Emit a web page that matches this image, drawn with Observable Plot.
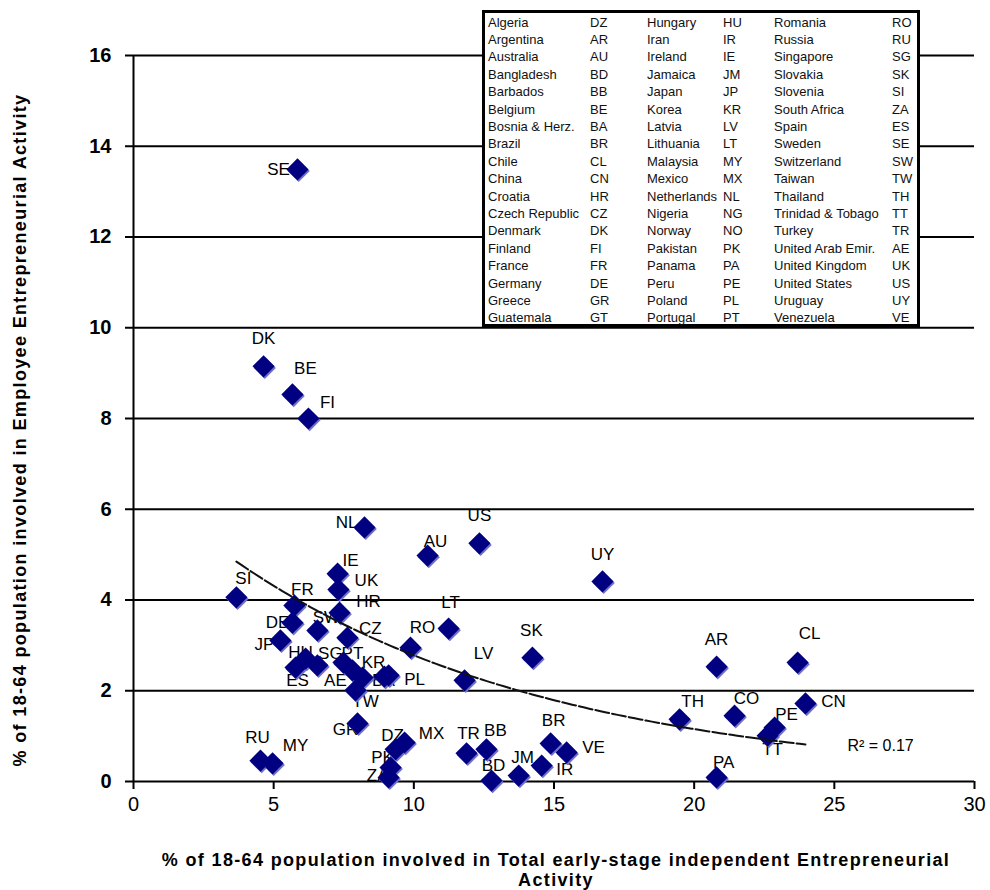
<!DOCTYPE html>
<html><head><meta charset="utf-8">
<script src="https://cdn.jsdelivr.net/npm/d3@7"></script>
<script src="https://cdn.jsdelivr.net/npm/@observablehq/plot@0.6"></script>
<style>
body{margin:0;background:#fff;font-family:"Liberation Sans",Arial,sans-serif;}
#wrap{position:relative;width:990px;height:890px;overflow:hidden;}
#legend{position:absolute;left:482px;top:10px;width:432px;height:311px;border:3px solid #000;background:#fff;}
.lg{position:absolute;font-size:13px;color:#111;white-space:nowrap;line-height:17px;}
#xtitle{position:absolute;left:556px;top:850px;transform:translateX(-50%);width:805px;text-align:center;font-weight:bold;font-size:18px;line-height:20px;letter-spacing:1.35px;}
#ytitle{position:absolute;left:20px;top:430px;transform:translate(-50%,-50%) rotate(-90deg);white-space:nowrap;font-weight:bold;font-size:18px;letter-spacing:1.35px;}
</style></head><body><div id="wrap"></div>
<script>
// ---- data ----
const codes = ["SE","DK","BE","FI","NL","AU","US","UY","IE","UK","SI","FR","HR","LT","DE","SW","CZ","RO","JP","SK","LV","AR","CL","TH","CO","CN","PE","TT","PA","HU","ES","SG","PT","AE","KR","TW","BA","PL","GR","RU","MY","DZ","MX","PK","ZA","TR","BB","BD","JM","BR","VE","IR"];
const teaValues = [5.85,4.64,5.67,6.24,8.24,10.49,12.34,16.73,7.28,7.31,3.67,5.74,7.35,11.24,5.67,6.56,7.63,9.88,5.24,14.23,11.81,20.80,23.69,19.48,21.44,23.97,22.87,22.62,20.80,6.14,5.78,6.56,7.49,7.81,8.17,7.92,8.95,9.10,7.99,4.53,4.96,9.35,9.67,9.17,9.10,11.88,12.59,12.77,13.74,14.88,15.45,14.56];
const eeaValues = [13.49,9.15,8.53,8.00,5.60,4.98,5.25,4.41,4.58,4.23,4.06,3.88,3.72,3.37,3.50,3.33,3.17,2.95,3.11,2.73,2.23,2.53,2.62,1.37,1.45,1.72,1.19,1.01,0.09,2.71,2.51,2.56,2.62,2.45,2.29,2.01,2.31,2.34,1.28,0.46,0.40,0.71,0.86,0.31,0.09,0.62,0.71,0.02,0.13,0.84,0.64,0.35];
const xTicks = [0,5,10,15,20,25,30];
const yTicks = [0,2,4,6,8,10,12,14,16];
const trendA = 6.69, trendB = -0.0878; // exponential trendline y = a·e^(b·x)
const rSquaredText = "R² = 0.17";
const legendNames = ["Algeria","Argentina","Australia","Bangladesh","Barbados","Belgium","Bosnia & Herz.","Brazil","Chile","China","Croatia","Czech Republic","Denmark","Finland","France","Germany","Greece","Guatemala",
"Hungary","Iran","Ireland","Jamaica","Japan","Korea","Latvia","Lithuania","Malaysia","Mexico","Netherlands","Nigeria","Norway","Pakistan","Panama","Peru","Poland","Portugal",
"Romania","Russia","Singapore","Slovakia","Slovenia","South Africa","Spain","Sweden","Switzerland","Taiwan","Thailand","Trinidad & Tobago","Turkey","United Arab Emir.","United Kingdom","United States","Uruguay","Venezuela"];
const legendCodes = ["DZ","AR","AU","BD","BB","BE","BA","BR","CL","CN","HR","CZ","DK","FI","FR","DE","GR","GT",
"HU","IR","IE","JM","JP","KR","LV","LT","MY","MX","NL","NG","NO","PK","PA","PE","PL","PT",
"RO","RU","SG","SK","SI","ZA","ES","SE","SW","TW","TH","TT","TR","AE","UK","US","UY","VE"];
const xTitle = "% of 18-64 population involved in Total early-stage independent Entrepreneurial Activity";
const yTitle = "% of 18-64 population involved in Employee Entrepreneurial Activity";

// ---- label placement (pixel offsets from the marker) ----
const labelOffset = {SE:[-19,0],DK:[0,-28],BE:[13,-26],FI:[19,-16],NL:[-18,-5],AU:[8,-14],US:[0,-28],UY:[0,-27],IE:[13,-13],UK:[28,-9],SI:[7,-19],FR:[8,-16],HR:[29,-11],LT:[2,-26],DE:[-15,0],SW:[9,-13],CZ:[23,-9],RO:[12,-20],JP:[-16,4],SK:[-1,-27],LV:[19,-27],AR:[0,-27],CL:[12,-29],TH:[13,-18],CO:[12,-17],CN:[28,-2],PE:[12,-13],TT:[5,14],PA:[7,-15],HU:[-5,-6],ES:[2,13],SG:[13,-12],PT:[9,-9],AE:[-17,10],KR:[11,-15],TW:[10,11],BA:[-1,4],PL:[26,4],GR:[-12,6],RU:[-3,-23],MY:[23,-18],DZ:[-3,-14],MX:[27,-9],PK:[-8,-10],ZA:[-11,-2],TR:[2,-20],BB:[9,-19],BD:[2,-15],JM:[4,-18],BR:[3,-23],VE:[27,-5],IR:[23,4]};

const data = codes.map((c,i)=>({code:c, tea:teaValues[i], eea:eeaValues[i]}));
const [xMin, xMax] = d3.extent(teaValues);
const trend = d3.range(0, 101).map(k => { const x = xMin + (xMax - xMin) * k / 100; return {x, y: trendA * Math.exp(trendB * x)}; });
const trendEnd = trend[trend.length-1];

const labelMarks = data.map(d => Plot.text([d], {x:"tea", y:"eea", text:"code", dx:labelOffset[d.code][0], dy:labelOffset[d.code][1], fontSize:17, fill:"#000"}));

const plot = Plot.plot({
  width: 990, height: 890,
  marginLeft: 133, marginRight: 16, marginTop: 55, marginBottom: 109,
  x: {domain:[0,30]},
  y: {domain:[0,16]},
  style: {fontFamily:"'Liberation Sans', Arial, sans-serif", background:"white", color:"#000"},
  marks: [
    Plot.ruleY(yTicks.filter(v=>v>0), {stroke:"#000", strokeWidth:2}),
    Plot.ruleY([0], {stroke:"#000", strokeWidth:2}),
    Plot.ruleX([0], {stroke:"#000", strokeWidth:2}),
    Plot.axisX({ticks:xTicks, tickSize:8, tickPadding:7, fontSize:20, strokeWidth:2, label:null}),
    Plot.axisY({ticks:yTicks, tickSize:8, tickPadding:14, fontSize:20, fontWeight:"bold", strokeWidth:2, label:null}),
    ...labelMarks,
    Plot.dot(data, {x:"tea", y:"eea", symbol:"diamond2", r:10, fill:"#7070c8", dx:1.2, dy:1.6}),
    Plot.dot(data, {x:"tea", y:"eea", symbol:"diamond2", r:10, fill:"#000080"}),
    Plot.line(trend, {x:"x", y:"y", stroke:"#111", strokeWidth:2, strokeDasharray:"14,3"}),
    Plot.text([trendEnd], {x:"x", y:"y", text:()=>rSquaredText, dx:42, dy:1, textAnchor:"start", fontSize:16, fill:"#000"})
  ]
});
const wrap = document.getElementById("wrap");
wrap.appendChild(plot);

const lg = document.createElement("div"); lg.id = "legend"; wrap.appendChild(lg);
const colName = [488, 647, 774], colCode = [590, 723, 892];
legendNames.forEach((n,i)=>{
  const col = Math.floor(i/18), row = i%18;
  const cy = 22 + row*17.4;
  const a = document.createElement("div"); a.className="lg"; a.textContent=n;
  a.style.left=(colName[col]-485)+"px"; a.style.top=(cy-8.5-13)+"px"; lg.appendChild(a);
  const b = document.createElement("div"); b.className="lg"; b.textContent=legendCodes[i];
  b.style.left=(colCode[col]-485)+"px"; b.style.top=(cy-8.5-13)+"px"; lg.appendChild(b);
});
const xt = document.createElement("div"); xt.id="xtitle"; xt.textContent=xTitle; wrap.appendChild(xt);
const yt = document.createElement("div"); yt.id="ytitle"; yt.textContent=yTitle; wrap.appendChild(yt);
</script></body></html>
